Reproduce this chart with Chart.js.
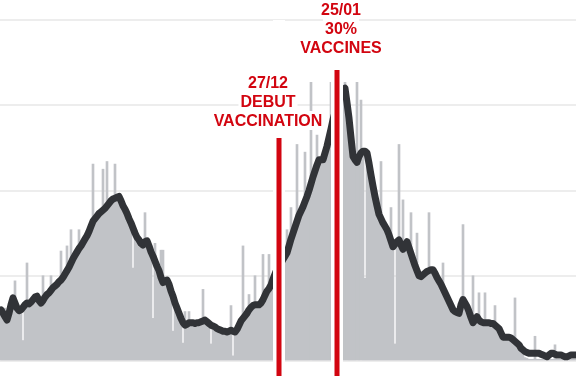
<!DOCTYPE html>
<html>
<head>
<meta charset="utf-8">
<script src="https://cdn.jsdelivr.net/npm/chart.js@4.4.0/dist/chart.umd.min.js"></script>
<style>
  html, body { margin: 0; padding: 0; background: #fff; }
  #wrap { width: 576px; height: 376px; position: relative; }
</style>
</head>
<body>
<div id="wrap"><canvas id="cases"></canvas></div>
<script>
/*_____________________DATA____________________*/

// daily values, one per day from 10/08/2020
const dailyCases = [
  58,50,62,45,52,64,70,94,60,57,
  62,24,66,115,64,68,70,73,74,69,
  66,100,72,76,78,100,84,86,88,91,
  129,96,100,135,108,154,118,122,126,154,
  133,137,141,145,150,156,231,165,168,171,
  173,225,177,234,183,186,188,231,190,191,
  186,180,176,171,165,160,109,148,143,140,
  136,134,174,139,133,126,50,138,109,104,
  130,130,92,93,88,80,35,66,60,54,
  48,21,58,41,58,43,43,42,43,43,
  44,84,46,44,42,20,39,38,36,35,
  34,33,33,32,33,65,6,32,35,40,
  45,135,51,54,78,61,63,100,64,64,
  66,125,75,80,125,87,94,100,106,111,
  113,117,121,154,133,180,148,155,254,169,
  174,179,245,191,198,327,214,221,265,234,
  234,234,242,250,260,327,281,290,298,306,
  312,316,327,301,283,260,238,234,327,238,
  306,244,97,242,230,216,203,191,180,170,
  234,160,156,152,146,180,132,20,138,254,
  134,189,134,138,131,174,117,110,150,98,
  97,99,101,103,174,105,105,101,96,92,
  88,115,78,73,68,63,58,56,55,54,
  64,160,66,62,56,49,100,46,50,80,
  44,43,80,43,43,42,42,65,38,36,
  31,26,26,26,26,25,23,74,19,15,
  12,8,4,3,2,2,2,29,2,2,
  2,2,2,2,2,2,2,19,2,2,
  2,2,2,2,2,2,2,2
];

// rolling average
const avgCases = [
  60,56,52,48,56,66,74,68,62,59,
  60,63,66,68,67,69,72,75,76,71,
  68,71,75,78,80,83,86,88,90,93,
  95,98,102,106,110,115,120,124,128,132,
  135,139,143,147,152,158,164,167,170,173,
  175,177,179,182,185,188,190,191,192,193,
  188,182,178,173,167,162,156,150,145,142,
  138,136,140,141,135,128,123,117,111,106,
  98,92,94,95,90,82,76,68,62,56,
  50,45,42,43,45,45,45,44,45,45,
  46,47,48,46,44,42,41,40,38,37,
  36,35,35,34,35,36,35,34,37,42,
  47,50,53,56,60,63,65,66,66,66,
  68,72,77,82,85,89,96,102,108,113,
  115,119,123,127,135,143,150,157,164,171,
  176,181,187,193,200,208,216,223,230,236,
  236,236,244,252,262,272,283,292,300,308,
  314,318,320,303,285,262,240,236,233,240,
  244,246,246,244,232,218,205,193,182,172,
  167,162,158,154,148,141,134,137,140,142,
  136,131,136,140,133,126,119,112,106,100,
  99,101,103,105,106,107,107,103,98,94,
  90,85,80,75,70,65,60,58,57,56,
  66,72,68,64,58,51,45,48,52,48,
  46,45,45,45,45,44,44,42,40,38,
  33,28,28,28,28,27,25,23,21,19,
  15,13,11,10,9,9,9,9,9,9,
  8,7,6,5,7,9,9,8,7,7,
  7,6,5,5,6,7,7,7
];

const yTicks = [0, 100, 200, 300, 400];

const markerDates = ['27/12', '25/01'];
const markerTexts = [
  ['27/12', 'DEBUT', 'VACCINATION'],
  ['25/01', '30%', 'VACCINES']
];

// day labels dd/mm
const labels = [];
const start = Date.UTC(2020, 7, 10);
for (let i = 0; i < dailyCases.length; i++) {
  const d = new Date(start + i * 86400000);
  labels.push(String(d.getUTCDate()).padStart(2, '0') + '/' + String(d.getUTCMonth() + 1).padStart(2, '0'));
}

/*_____________________MARKERS____________________*/

const RED = '#d20510';
const markerStyle = [
  {top: 138, textX: -11, base: 88},
  {top: 70, textX: 4, base: 15}
];

const markers = {
  id: 'markers',
  afterDatasetsDraw(chart) {
    const ctx = chart.ctx;
    const xs = chart.scales.x;
    const area = chart.chartArea;
    ctx.save();
    markerDates.forEach(function(m, k) {
      const x = xs.getPixelForValue(labels.indexOf(m));
      const st = markerStyle[k];
      // white gap round the line
      ctx.fillStyle = '#fff';
      ctx.fillRect(x - 6, area.top, 12, chart.height - area.top);
      ctx.fillStyle = RED;
      ctx.fillRect(x - 2.5, st.top, 5, chart.height - st.top);

      ctx.font = 'bold 16px "Liberation Sans", Arial, sans-serif';
      ctx.textAlign = 'center';
      ctx.textBaseline = 'alphabetic';
      const cx = x + st.textX;
      markerTexts[k].forEach(function(t, j) {
        const w = ctx.measureText(t).width;
        const by = st.base + j * 19;
        ctx.fillStyle = '#fff';
        ctx.fillRect(cx - w / 2 - 2, by - 15, w + 4, 19);
      });
      markerTexts[k].forEach(function(t, j) {
        ctx.fillStyle = RED;
        ctx.fillText(t, cx, st.base + j * 19);
      });
    });
    ctx.restore();
  }
};

/*_____________________CHART____________________*/

new Chart(document.getElementById('cases'), {
  type: 'bar',
  data: {
    labels: labels,
    datasets: [
      {
        type: 'line',
        label: 'Moyenne',
        data: avgCases,
        borderColor: '#313337',
        borderWidth: 7,
        borderJoinStyle: 'round',
        borderCapStyle: 'round',
        pointRadius: 0,
        tension: 0,
        order: 0
      },
      {
        label: 'Cas',
        data: dailyCases,
        backgroundColor: '#c1c3c7',
        categoryPercentage: 1,
        barPercentage: 1,
        order: 1
      }
    ]
  },
  options: {
    responsive: true,
    maintainAspectRatio: false,
    animation: false,
    layout: {padding: {top: 20, bottom: 15, left: 0, right: 0}},
    plugins: {
      legend: {display: false},
      tooltip: {enabled: false}
    },
    scales: {
      x: {display: false},
      y: {
        min: yTicks[0],
        max: yTicks[yTicks.length - 1],
        afterBuildTicks: s => { s.ticks = yTicks.map(v => ({value: v})); },
        afterFit: s => { s.width = 0; },
        ticks: {display: false},
        border: {display: false},
        grid: {color: '#ededed', lineWidth: 2, drawTicks: false}
      }
    }
  },
  plugins: [markers]
});
</script>
</body>
</html>
